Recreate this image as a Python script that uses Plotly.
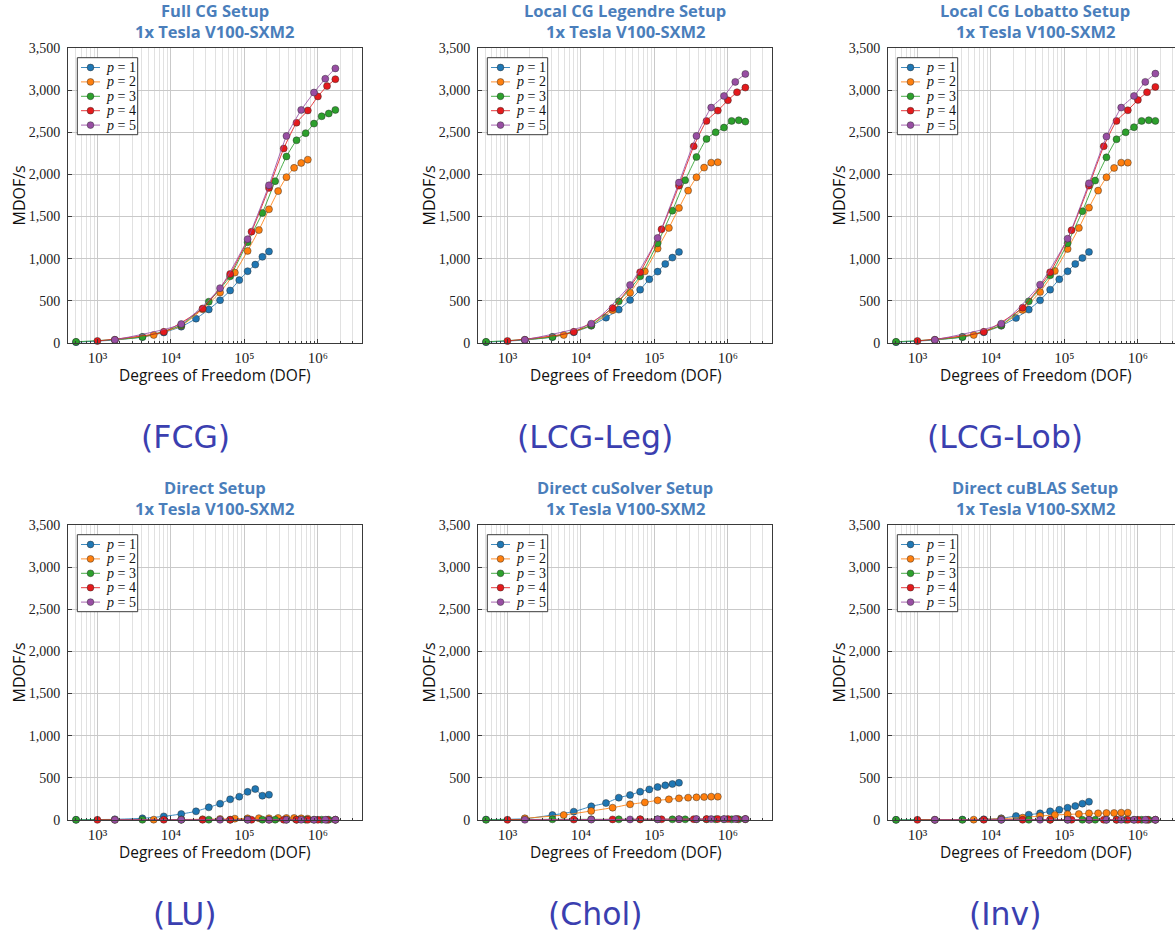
import plotly.graph_objects as go

W, H = 1175, 934

# ---- degrees of freedom for each polynomial degree p ----
dof_p1 = [512, 1728, 4096, 8000, 13824, 21952, 32768, 46656, 64000, 85184, 110592, 140608, 175616, 216000]
dof_p2 = [1728, 5832, 13824, 27000, 46656, 74088, 110592, 157464, 216000, 287496, 373248, 474552, 592704, 729000]
dof_p3 = [512, 4096, 13824, 32768, 64000, 110592, 175616, 262144, 373248, 512000, 681472, 884736, 1124864, 1404928, 1728000]
dof_p4 = [1000, 8000, 27000, 64000, 125000, 216000, 343000, 512000, 729000, 1000000, 1331000, 1728000]
dof_p5 = [1728, 13824, 46656, 110592, 216000, 373248, 592704, 884736, 1259712, 1728000]

# ---- throughput in MDOF/s ----
fcg_p1 = [10, 35, 70, 125, 194, 289, 398, 508, 623, 746, 852, 930, 1022, 1086]
fcg_p2 = [38, 95, 205, 400, 600, 835, 1093, 1340, 1586, 1802, 1968, 2078, 2136, 2175]
fcg_p3 = [14, 72, 212, 490, 791, 1195, 1543, 1920, 2213, 2405, 2490, 2603, 2690, 2723, 2765]
fcg_p4 = [24, 132, 409, 819, 1321, 1840, 2308, 2614, 2759, 2925, 3048, 3130]
fcg_p5 = [38, 225, 651, 1232, 1871, 2456, 2765, 2972, 3135, 3258]

leg_p1 = [10, 35, 70, 128, 204, 301, 396, 510, 633, 756, 847, 938, 1013, 1080]
leg_p2 = [38, 95, 210, 390, 597, 850, 1120, 1365, 1602, 1808, 1966, 2081, 2140, 2144]
leg_p3 = [14, 72, 212, 494, 791, 1183, 1570, 1931, 2207, 2421, 2500, 2556, 2635, 2643, 2627]
leg_p4 = [24, 132, 415, 839, 1349, 1867, 2334, 2635, 2757, 2880, 2975, 3030]
leg_p5 = [38, 229, 688, 1246, 1903, 2457, 2793, 2931, 3098, 3192]

lob_p1 = [10, 35, 70, 128, 204, 297, 396, 506, 633, 756, 851, 938, 1009, 1080]
lob_p2 = [38, 95, 210, 392, 605, 855, 1116, 1365, 1606, 1808, 1966, 2077, 2140, 2140]
lob_p3 = [14, 72, 212, 494, 803, 1183, 1563, 1927, 2203, 2417, 2500, 2560, 2635, 2643, 2635]
lob_p4 = [24, 132, 419, 839, 1337, 1867, 2334, 2635, 2761, 2884, 2975, 3038]
lob_p5 = [38, 229, 692, 1238, 1895, 2449, 2793, 2931, 3098, 3196]

lu_p1 = [3, 8, 20, 43, 71, 103, 150, 194, 245, 277, 334, 367, 288, 300]
lu_p2 = [2, 4, 6, 9, 12, 16, 20, 22, 21, 24, 24, 24, 20, 16]
lu_p3 = [2, 3, 4, 4, 4, 4, 4, 4, 4, 4, 4, 4, 4, 4, 4]
lu_p4 = [2, 3, 3, 3, 3, 3, 3, 3, 3, 3, 3, 3]
lu_p5 = [2, 3, 3, 3, 3, 3, 3, 3, 3, 3]

chol_p1 = [5, 15, 59, 99, 162, 201, 265, 296, 336, 363, 391, 411, 427, 442]
chol_p2 = [20, 59, 107, 146, 186, 209, 233, 245, 257, 265, 269, 273, 277, 277]
chol_p3 = [3, 8, 8, 8, 8, 8, 8, 8, 8, 8, 8, 8, 8, 8, 8]
chol_p4 = [3, 5, 7, 8, 9, 10, 10, 11, 12, 12, 12, 12]
chol_p5 = [3, 5, 7, 9, 10, 11, 11, 12, 12, 12]

inv_p1 = [2, 3, 5, 8, 20, 47, 63, 79, 103, 122, 146, 166, 194, 217]
inv_p2 = [2, 4, 16, 28, 47, 59, 67, 71, 79, 79, 83, 83, 87, 87]
inv_p3 = [2, 2, 3, 3, 3, 3, 3, 3, 3, 3, 3, 3, 3, 3, 3]
inv_p4 = [2, 3, 3, 3, 3, 3, 3, 3, 3, 3, 3, 3]
inv_p5 = [2, 3, 3, 3, 3, 3, 3, 3, 3, 3]

dofs = [dof_p1, dof_p2, dof_p3, dof_p4, dof_p5]
series_names = ["1", "2", "3", "4", "5"]
colors = ["#1f77b4", "#ff7f0e", "#2ca02c", "#e41a1c", "#984ea3"]

panels = [
    ("Full CG Setup", "(FCG)", [fcg_p1, fcg_p2, fcg_p3, fcg_p4, fcg_p5]),
    ("Local CG Legendre Setup", "(LCG-Leg)", [leg_p1, leg_p2, leg_p3, leg_p4, leg_p5]),
    ("Local CG Lobatto Setup", "(LCG-Lob)", [lob_p1, lob_p2, lob_p3, lob_p4, lob_p5]),
    ("Direct Setup", "(LU)", [lu_p1, lu_p2, lu_p3, lu_p4, lu_p5]),
    ("Direct cuSolver Setup", "(Chol)", [chol_p1, chol_p2, chol_p3, chol_p4, chol_p5]),
    ("Direct cuBLAS Setup", "(Inv)", [inv_p1, inv_p2, inv_p3, inv_p4, inv_p5]),
]
subtitle = "1x Tesla V100-SXM2"

x_tickvals = [1e3, 1e4, 1e5, 1e6]
x_ticktext = ["10³", "10⁴", "10⁵", "10⁶"]
x_minor = [m * 10 ** e for e in range(2, 7) for m in range(2, 10) if 400 <= m * 10 ** e <= 4e6]
y_tickvals = [0, 500, 1000, 1500, 2000, 2500, 3000, 3500]

# ---- geometry (pixels) ----
col_left = [68, 478, 888]
row_top = [48, 525]
plot_w, plot_h = 294, 295
decade_px = plot_w / 4.0
x_lo = 2.6

frame = "#3a3a3a"
grid_major = "#c9c9c9"
grid_minor = "#e1e1e1"
tick_font = dict(family="Liberation Serif", size=14, color="#222222")
xtick_font = dict(family="Liberation Serif", size=15, color="#222222")
sans = "Open Sans"


def fx(px):
    return px / W


def fy(py):
    return 1 - py / H


def rgba(hex_color, a):
    h = hex_color.lstrip("#")
    r, g, b = int(h[0:2], 16), int(h[2:4], 16), int(h[4:6], 16)
    return f"rgba({r},{g},{b},{a})"


fig = go.Figure()
shapes, annotations = [], []

for i, (title, caption, values) in enumerate(panels):
    row, col = divmod(i, 3)
    left, top = col_left[col], row_top[row]
    right_px = min(left + plot_w, W)
    bottom = top + plot_h
    sfx = "" if i == 0 else str(i + 1)
    xa, ya = "x" + sfx, "y" + sfx

    for k in range(5):
        fig.add_trace(go.Scatter(
            x=dofs[k], y=values[k], mode="lines+markers",
            name=f"p = {series_names[k]}",
            line=dict(color=rgba(colors[k], 0.85), width=1, shape="spline", smoothing=0.5),
            marker=dict(size=7, color=colors[k], line=dict(color="rgba(40,40,40,0.75)", width=0.6)),
            cliponaxis=False, showlegend=False, xaxis=xa, yaxis=ya,
        ))

    x_hi = x_lo + (right_px - left) / decade_px
    fig.layout["xaxis" + sfx] = dict(
        type="log", range=[x_lo, x_hi], domain=[fx(left), fx(right_px)], anchor=ya,
        automargin=False,
        showline=True, linecolor=frame, linewidth=1, mirror=True,
        ticks="inside", ticklen=4, tickcolor=frame, tickwidth=1,
        tickvals=x_tickvals, ticktext=x_ticktext, tickfont=xtick_font,
        ticklabelstandoff=1,
        showgrid=True, gridcolor=grid_major, gridwidth=1, zeroline=False,
        minor=dict(tickvals=x_minor, ticks="inside", ticklen=2, tickcolor=frame,
                   showgrid=True, gridcolor=grid_minor, gridwidth=1),
    )
    fig.layout["yaxis" + sfx] = dict(
        range=[0, 3500], domain=[fy(bottom), fy(top)], anchor=xa,
        automargin=False,
        showline=True, linecolor=frame, linewidth=1, mirror=(col < 2),
        ticks="inside", ticklen=4, tickcolor=frame, tickwidth=1,
        tickvals=y_tickvals, tickformat=",", tickfont=tick_font,
        ticklabelstandoff=4,
        showgrid=True, gridcolor=grid_major, gridwidth=1, zeroline=False,
    )

    cx = left + plot_w / 2
    # panel titles
    annotations.append(dict(xref="paper", yref="paper", x=fx(cx), y=fy(top - 37), xanchor="center", yanchor="middle",
                            text=f"<b>{title}</b>", showarrow=False,
                            font=dict(family=sans, size=16.5, color="#4a7ebb")))
    annotations.append(dict(xref="paper", yref="paper", x=fx(cx), y=fy(top - 16.5), xanchor="center", yanchor="middle",
                            text=f"<b>{subtitle}</b>", showarrow=False,
                            font=dict(family=sans, size=16.5, color="#4a7ebb")))
    # axis titles
    annotations.append(dict(xref="paper", yref="paper", x=fx(left - 50), y=fy(top + plot_h / 2), xanchor="center",
                            yanchor="middle", text="MDOF/s", textangle=-90, showarrow=False,
                            font=dict(family=sans, size=16, color="#111111")))
    annotations.append(dict(xref="paper", yref="paper", x=fx(cx), y=fy(bottom + 32), xanchor="center",
                            yanchor="middle", text="Degrees of Freedom (DOF)", showarrow=False,
                            font=dict(family=sans, size=15.5, color="#111111")))
    # sub-figure caption
    annotations.append(dict(xref="paper", yref="paper", x=fx(left + 117), y=fy(bottom + 94), xanchor="center",
                            yanchor="middle", text=caption, showarrow=False,
                            font=dict(family="DejaVu Sans", size=31.5, color="#3b3fb0")))

    # legend box
    lx0, ly0 = left + 9.3, top + 9.7
    shapes.append(dict(type="rect", xref="paper", yref="paper",
                       x0=fx(lx0), x1=fx(left + 69.7), y0=fy(ly0), y1=fy(top + 86.7),
                       line=dict(color=frame, width=1), fillcolor="white", layer="above"))
    for k in range(5):
        ey = top + 19.5 + 14.4 * k
        shapes.append(dict(type="line", xref="paper", yref="paper",
                           x0=fx(left + 13), x1=fx(left + 32), y0=fy(ey), y1=fy(ey),
                           line=dict(color=rgba(colors[k], 0.85), width=1), layer="above"))
        shapes.append(dict(type="circle", xref="paper", yref="paper", xsizemode="pixel", ysizemode="pixel",
                           xanchor=fx(left + 22.5), yanchor=fy(ey), x0=-3.4, x1=3.4, y0=-3.4, y1=3.4,
                           fillcolor=colors[k], line=dict(color="rgba(40,40,40,0.75)", width=0.6), layer="above"))
        annotations.append(dict(xref="paper", yref="paper", x=fx(left + 35.5), y=fy(ey), xanchor="left",
                                yanchor="middle", text=f"<i>p</i> = {series_names[k]}", showarrow=False,
                                font=dict(family="Liberation Serif", size=14, color="#111111")))

fig.update_layout(
    width=W, height=H,
    margin=dict(l=0, r=0, t=0, b=0, pad=0, autoexpand=False),
    paper_bgcolor="white", plot_bgcolor="white",
    showlegend=False, shapes=shapes, annotations=annotations,
)

fig.write_html("out.html")
